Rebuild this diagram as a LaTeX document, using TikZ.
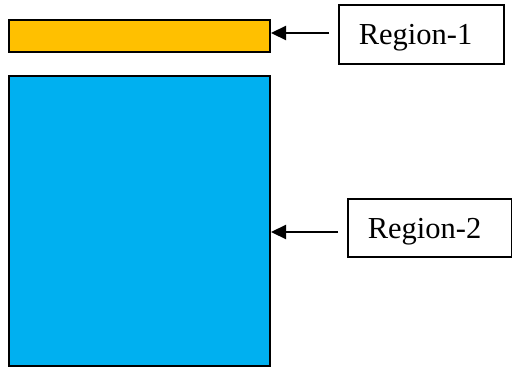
\documentclass[tikz,border=0pt]{standalone}
\usepackage{fontspec}
\setmainfont{Liberation Serif}
\usetikzlibrary{arrows.meta}
\definecolor{regorange}{HTML}{FFC000}
\definecolor{regblue}{HTML}{00B0F0}
\tikzset{
  region/.style={draw=black, line width=2pt, inner sep=0pt, anchor=north west},
  labelbox/.style={draw=black, line width=1.6pt, inner ysep=0pt, inner xsep=20pt, align=left, text height=21pt, text depth=0pt, anchor=north west, font=\fontsize{30.5}{34}\selectfont},
  pointer/.style={-{Triangle[length=15pt,width=14pt]}, line width=2.2pt, shorten <=9pt}
}
\begin{document}
\begin{tikzpicture}[x=1pt,y=-1pt]
\useasboundingbox (0,0) rectangle (512,367);
\node[region, fill=regorange, minimum width=261pt, minimum height=32pt] (r1) at (8,19) {};
\node[region, fill=regblue, minimum width=261pt, minimum height=290pt] (r2) at (8,75) {};
\node[labelbox, text width=125pt, minimum height=59pt] (b1) at (338,4) {Region-1};
\node[labelbox, text width=124pt, minimum height=58pt] (b2) at (347,198) {Region-2};
\coordinate (s1) at (338,33);
\coordinate (s2) at (347,232);
\draw[pointer] (s1) -- (r1.east |- s1);
\draw[pointer] (s2) -- (r2.east |- s2);
\end{tikzpicture}
\end{document}
